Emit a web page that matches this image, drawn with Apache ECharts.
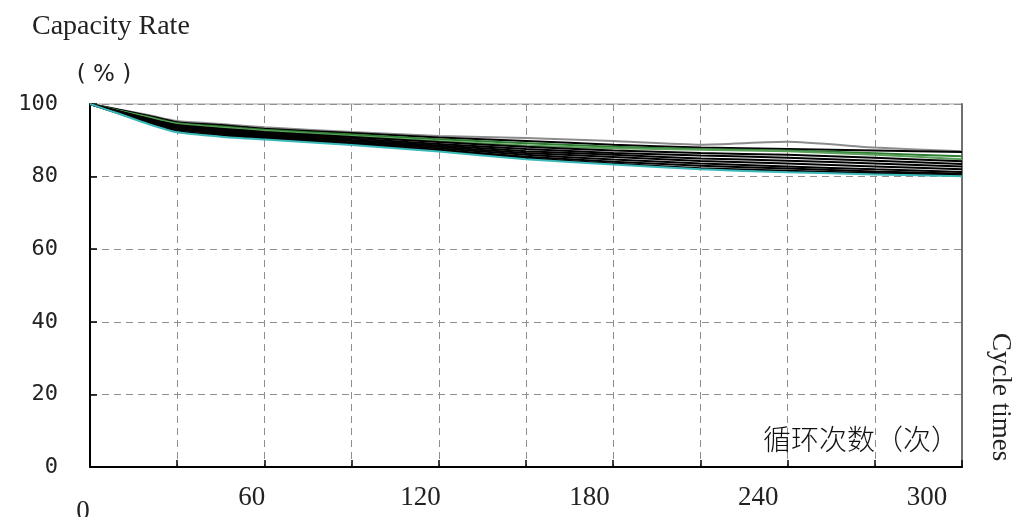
<!DOCTYPE html>
<html><head><meta charset="utf-8">
<script src="https://cdn.jsdelivr.net/npm/echarts@6/dist/echarts.min.js"></script>
<style>html,body{margin:0;padding:0;background:#fff}#c{width:1019px;height:517px}</style>
</head><body><div id="c"></div>
<script>
// ---- data ----
const cycles = [0, 10, 20, 30, 45, 60, 90, 120, 150, 180, 210, 240, 270, 300];
const xTickLabels = [0, 60, 120, 180, 240, 300];
const yTickLabels = [0, 20, 40, 60, 80, 100];
const cellGray   = [100, 98.5, 97.0, 95.3, 94.5, 93.6, 92.3, 91.2, 90.6, 89.8, 88.8, 89.6, 88.0, 87.0];
const cellA      = [100, 98.4, 96.8, 95.0, 94.2, 93.2, 92.0, 90.8, 89.8, 88.8, 88.0, 87.6, 87.2, 86.8];
const cellGreen1 = [100, 98.2, 96.5, 94.7, 93.8, 92.9, 91.6, 90.3, 89.2, 88.2, 87.6, 87.2, 86.4, 85.6];
const cellGreen2 = [100, 98.1, 96.3, 94.5, 93.5, 92.6, 91.2, 89.8, 88.6, 87.8, 87.4, 87.0, 86.0, 84.8];
const cellB      = [100, 98.0, 96.0, 94.2, 93.2, 92.3, 90.9, 89.5, 88.2, 87.2, 86.5, 86.0, 85.2, 84.2];
const cellC      = [100, 97.9, 95.8, 94.0, 92.9, 92.0, 90.5, 89.0, 87.6, 86.5, 85.8, 85.2, 84.4, 83.5];
const cellD      = [100, 97.8, 95.6, 93.8, 92.7, 91.7, 90.1, 88.6, 87.0, 86.0, 85.0, 84.4, 83.6, 82.8];
const cellE      = [100, 97.7, 95.4, 93.5, 92.4, 91.4, 89.8, 88.2, 86.5, 85.4, 84.3, 83.6, 82.8, 82.0];
const cellF      = [100, 97.6, 95.2, 93.2, 92.1, 91.1, 89.4, 87.8, 86.0, 84.7, 83.6, 82.8, 82.0, 81.3];
const cellG      = [100, 97.5, 95.0, 93.0, 91.8, 90.8, 89.1, 87.4, 85.5, 84.1, 83.0, 82.2, 81.4, 80.8];
const cellH      = [100, 97.4, 94.8, 92.6, 91.4, 90.5, 88.9, 87.2, 85.1, 83.6, 82.3, 81.6, 81.0, 80.4];
const cellCyan   = [100, 97.3, 94.5, 92.2, 91.0, 90.2, 88.7, 86.9, 84.8, 83.3, 82.0, 81.2, 80.6, 80.1];

const seriesList = [
  {name: 'gray', values: cellGray, color: '#8c8c8c'},
  {name: 'a', values: cellA, color: '#000'},
  {name: 'g1', values: cellGreen1, color: '#2e7d32'},
  {name: 'g2', values: cellGreen2, color: '#5aa05a'},
  {name: 'b', values: cellB, color: '#000'},
  {name: 'c', values: cellC, color: '#000'},
  {name: 'd', values: cellD, color: '#000'},
  {name: 'e', values: cellE, color: '#000'},
  {name: 'f', values: cellF, color: '#000'},
  {name: 'g', values: cellG, color: '#000'},
  {name: 'h', values: cellH, color: '#000'},
  {name: 'cyan', values: cellCyan, color: '#3bb8b8'}
];

const chart = echarts.init(document.getElementById('c'), null, {renderer: 'canvas'});
const dash = {color: '#8f8f8f', type: [7, 5], width: 1};
const serif = 'Liberation Serif';
const xLabelStyle = {color: '#222', fontFamily: serif, fontSize: 27};

chart.setOption({
  animation: false,
  backgroundColor: '#fff',
  grid: [
    {left: 90, right: 57, top: 104, bottom: 50, show: true, borderColor: '#a0a0a0', borderWidth: 1,
     containLabel: false, outerBoundsMode: 'none'},
    {left: 83, width: 844, top: 104, bottom: 50, containLabel: false, outerBoundsMode: 'none'}
  ],
  xAxis: [
    {type: 'value', gridIndex: 0, position: 'bottom', min: 0, max: 300, interval: 30,
     axisLine: {show: true, onZero: false, lineStyle: {color: '#000', width: 2}},
     axisTick: {show: true, inside: true, length: 7, lineStyle: {color: '#000', width: 1.5}},
     axisLabel: {show: false},
     splitLine: {show: true, lineStyle: dash}},
    {type: 'value', gridIndex: 1, position: 'bottom', min: 0, max: 300, interval: 60,
     axisLine: {show: false, onZero: false}, axisTick: {show: false}, splitLine: {show: false},
     axisLabel: Object.assign({show: true, margin: 17,
       formatter: v => (xTickLabels.includes(v) && v !== 0) ? String(v) : ''}, xLabelStyle)},
    {type: 'value', gridIndex: 1, position: 'bottom', offset: 0, min: 0, max: 300, interval: 300,
     axisLine: {show: false, onZero: false}, axisTick: {show: false}, splitLine: {show: false},
     axisLabel: Object.assign({show: true, margin: 31,
       formatter: v => v === xTickLabels[0] ? String(v) : ''}, xLabelStyle)}
  ],
  yAxis: [
    {type: 'value', gridIndex: 0, min: 0, max: 100, interval: 20,
     axisLine: {show: true, lineStyle: {color: '#000', width: 2}},
     axisTick: {show: true, inside: true, length: 7, lineStyle: {color: '#000', width: 1.5}},
     axisLabel: {show: true, margin: 32, color: '#222', fontFamily: 'DejaVu Sans Mono', fontSize: 22,
       padding: [6, 0, 0, 0],
       formatter: v => yTickLabels.includes(v) ? String(v) : ''},
     splitLine: {show: true, lineStyle: dash}},
    {type: 'value', gridIndex: 0, min: 0, max: 100, position: 'right',
     axisLine: {show: true, lineStyle: {color: '#707070', width: 2}},
     axisTick: {show: false}, axisLabel: {show: false}, splitLine: {show: false}},
    {type: 'value', gridIndex: 1, min: 0, max: 100, show: false}
  ],
  series: seriesList.map(s => ({
    type: 'line', name: s.name, xAxisIndex: 0, yAxisIndex: 0,
    data: cycles.map((c, i) => [c, s.values[i]]),
    showSymbol: false, symbol: 'none', smooth: 0.2,
    lineStyle: {color: s.color, width: 2}, z: 3
  })),
  graphic: [
    {type: 'text', left: 32, top: 13, z: 10,
     style: {text: 'Capacity Rate', font: '28px "Liberation Serif"', fill: '#222'}},
    {type: 'text', x: 104, y: 75, z: 10,
     style: {text: '( % )', font: '23px "DejaVu Sans"', fill: '#222', textAlign: 'center', textVerticalAlign: 'middle'}},
    {type: 'text', x: 763, y: 439, z: 10,
     style: {text: '循环次数（次）', font: '300 28px "Noto Sans CJK SC"', fill: '#111', textAlign: 'left', textVerticalAlign: 'middle'}},
    {type: 'text', x: 1014, y: 333, rotation: -Math.PI / 2, z: 10,
     style: {text: 'Cycle times', font: '27px "Liberation Serif"', fill: '#222', textAlign: 'left', textVerticalAlign: 'top'}}
  ]
});
</script>
</body></html>
